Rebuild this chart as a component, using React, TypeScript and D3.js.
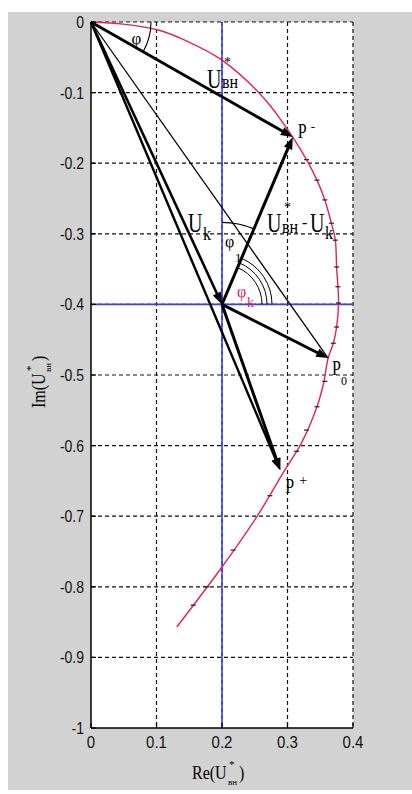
import React from 'react';
import * as d3 from 'd3';

// ---- data ----
const xTickValues = [0, 0.1, 0.2, 0.3, 0.4];
const xTickLabels = ['0', '0.1', '0.2', '0.3', '0.4'];
const yTickValues = [0, -0.1, -0.2, -0.3, -0.4, -0.5, -0.6, -0.7, -0.8, -0.9, -1];
const yTickLabels = ['0', '-0.1', '-0.2', '-0.3', '-0.4', '-0.5', '-0.6', '-0.7', '-0.8', '-0.9', '-1'];

// red locus curve (Re, Im)
const curveRe = [0, 0.049, 0.101, 0.144, 0.2, 0.266, 0.308, 0.329, 0.345, 0.357, 0.367, 0.373, 0.375, 0.377, 0.378, 0.375, 0.37, 0.362, 0.355, 0.345, 0.322, 0.293, 0.253, 0.2, 0.131];
const curveIm = [0, -0.003, -0.011, -0.026, -0.054, -0.11, -0.163, -0.195, -0.224, -0.252, -0.285, -0.309, -0.347, -0.375, -0.398, -0.432, -0.455, -0.476, -0.512, -0.545, -0.595, -0.639, -0.701, -0.772, -0.857];

// marker points along the locus (from P- downwards)
const markRe = [0.329, 0.345, 0.357, 0.367, 0.373, 0.375, 0.377, 0.378, 0.375, 0.37, 0.357, 0.345, 0.329, 0.314, 0.273, 0.217, 0.177, 0.156];
const markIm = [-0.195, -0.224, -0.252, -0.285, -0.309, -0.347, -0.375, -0.398, -0.432, -0.455, -0.509, -0.545, -0.578, -0.608, -0.671, -0.748, -0.8, -0.826];

// key points: O, Uk, P-, P0, P+
const pointRe = [0, 0.2, 0.308, 0.362, 0.289];
const pointIm = [0, -0.4, -0.163, -0.476, -0.635];

// vectors between key points
const vecFrom = [0, 1, 1, 1, 0, 0, 0];
const vecTo = [2, 2, 3, 4, 1, 4, 3];

// reference lines
const refRe = 0.2;
const refIm = -0.4;

// ---- styles (kept apart from data) ----
const vecWidth = [3, 3, 3, 3, 2.6, 2.4, 1.3];
const vecArrow = [true, true, true, true, true, true, false];
const SERIF = 'Liberation Serif, Times New Roman, serif';
const SANS = 'Liberation Sans, Arial, sans-serif';
const RED = '#e3225a';
const BLUE = '#3b3bff';

function T({ x, y, size, sy = 1, fill = '#000', anchor = 'start', family = SERIF, children }: any) {
  return (
    <text transform={`translate(${x},${y}) scale(1,${sy})`} fontSize={size} fill={fill}
      textAnchor={anchor} fontFamily={family}>{children}</text>
  );
}

export default function App() {
  const x = d3.scaleLinear().domain([0, 0.4]).range([91, 353]);
  const y = d3.scaleLinear().domain([0, -1]).range([22, 728]);
  const [x0, x1] = x.range();
  const [y0, y1] = y.range();

  const curvePath = d3.line<number>()
    .x((_, i) => x(curveRe[i]))
    .y((_, i) => y(curveIm[i]))
    .curve(d3.curveCatmullRom.alpha(0.5))(curveRe) as string;

  const P = pointRe.map((r, i) => [x(r), y(pointIm[i])]);

  const ang = (a: number[], b: number[]) => Math.atan2(b[1] - a[1], b[0] - a[0]);
  const arc = (c: number[], r: number, a0: number, a1: number) => {
    const p = d3.path();
    p.arc(c[0], c[1], r, a0, a1, false);
    return p.toString();
  };

  const aPhi = ang(P[0], P[2]);
  const aK = ang(P[1], P[2]);

  return (
    <svg width={412} height={794} style={{ position: 'absolute', left: 0, top: 0 }}>
      <rect x={8} y={12} width={404} height={778} fill="#d2d2d2" />
      <rect x={x0} y={y0} width={x1 - x0} height={y1 - y0} fill="#fff" />

      {/* grid */}
      {xTickValues.slice(1).map((v) => (
        <line key={'gx' + v} x1={x(v)} x2={x(v)} y1={y0} y2={y1} stroke="#111" strokeWidth={1.2} strokeDasharray="4,3" />
      ))}
      {yTickValues.slice(0, -1).map((v) => (
        <line key={'gy' + v} x1={x0} x2={x1} y1={y(v)} y2={y(v)} stroke="#111" strokeWidth={1.2} strokeDasharray="4,3" />
      ))}

      {/* blue reference lines */}
      <line x1={x(refRe)} x2={x(refRe)} y1={y0} y2={y1} stroke={BLUE} strokeWidth={1.6} />
      <line x1={x0} x2={x1} y1={y(refIm)} y2={y(refIm)} stroke={BLUE} strokeWidth={1.6} />

      {/* red curve */}
      <path d={curvePath} fill="none" stroke={RED} strokeWidth={1.4} />
      {markRe.map((r, i) => (
        <line key={'m' + i} x1={x(r) - 2.5} x2={x(r) + 2.5} y1={y(markIm[i])} y2={y(markIm[i])} stroke="#222" strokeWidth={1.2} />
      ))}

      {/* vectors */}
      {vecFrom.map((f, i) => {
        const a = P[f], b = P[vecTo[i]];
        const t = ang(a, b);
        const L = 12, hw = 4.5;
        const ux = Math.cos(t), uy = Math.sin(t);
        const bx = b[0] - L * ux * 0.8, by = b[1] - L * uy * 0.8;
        const baseX = b[0] - L * ux, baseY = b[1] - L * uy;
        return (
          <g key={'v' + i}>
            <line x1={a[0]} y1={a[1]} x2={vecArrow[i] ? bx : b[0]} y2={vecArrow[i] ? by : b[1]} stroke="#000" strokeWidth={vecWidth[i]} />
            {vecArrow[i] && (
              <polygon points={`${b[0]},${b[1]} ${baseX - hw * uy},${baseY + hw * ux} ${baseX + hw * uy},${baseY - hw * ux}`} fill="#000" />
            )}
          </g>
        );
      })}

      {/* angle arcs */}
      <path d={arc(P[0], 60, 0, aPhi)} fill="none" stroke="#000" strokeWidth={1.1} />
      <path d={arc(P[1], 82, -Math.PI / 2, aK)} fill="none" stroke="#000" strokeWidth={1.1} />
      {[40, 45, 50].map((r) => (
        <path key={'ak' + r} d={arc(P[1], r, aK, 0)} fill="none" stroke="#000" strokeWidth={1} />
      ))}

      {/* axes */}
      <line x1={x0} x2={x0} y1={y0} y2={y1} stroke="#000" strokeWidth={1.5} />
      <line x1={x0} x2={x1} y1={y1} y2={y1} stroke="#000" strokeWidth={1.5} />
      {yTickValues.map((v) => (
        <line key={'ty' + v} x1={x0} x2={x0 + 5} y1={y(v)} y2={y(v)} stroke="#000" strokeWidth={1.2} />
      ))}
      {xTickValues.map((v) => (
        <line key={'tx' + v} x1={x(v)} x2={x(v)} y1={y1} y2={y1 - 5} stroke="#000" strokeWidth={1.2} />
      ))}

      {/* tick labels */}
      {yTickValues.map((v, i) => (
        <T key={'ly' + v} x={x0 - 7} y={y(v) + 6} size={14} sy={1.15} anchor="end" family={SANS} fill="#111">{yTickLabels[i]}</T>
      ))}
      {xTickValues.map((v, i) => (
        <T key={'lx' + v} x={x(v)} y={y1 + 20} size={15} sy={1.15} anchor="middle" family={SANS} fill="#111">{xTickLabels[i]}</T>
      ))}

      {/* axis titles */}
      <T x={192} y={779} size={16} sy={1.15}>Re(U</T>
      <T x={228} y={785} size={9}>вн</T>
      <T x={229} y={768} size={11}>*</T>
      <T x={239} y={779} size={16} sy={1.15}>)</T>
      <g transform="translate(45,408) rotate(-90)">
        <T x={0} y={0} size={16} sy={1.15}>Im(U</T>
        <T x={36} y={6} size={9}>вн</T>
        <T x={37} y={-11} size={11}>*</T>
        <T x={47} y={0} size={16} sy={1.15}>)</T>
      </g>

      {/* annotations */}
      <T x={x(0.062)} y={y(-0.031)} size={17}>φ</T>

      <T x={x(0.177)} y={y(-0.094)} size={20} sy={1.4}>U</T>
      <T x={x(0.177) + 15} y={y(-0.094)} size={16} sy={1.2}>вн</T>
      <T x={x(0.177) + 17} y={y(-0.094) - 21} size={14}>*</T>

      <T x={P[2][0] + 5} y={P[2][1] + 1} size={16} sy={1.3}>P</T>
      <T x={P[2][0] + 18} y={P[2][1] - 6} size={13}>-</T>

      <T x={x(0.148)} y={y(-0.2975)} size={20} sy={1.4}>U</T>
      <T x={x(0.148) + 15} y={y(-0.2975) + 8} size={16} sy={1.2}>k</T>

      <T x={x(0.2046)} y={y(-0.318)} size={16}>φ</T>
      <T x={x(0.2046) + 10} y={y(-0.318) + 15} size={13}>1</T>

      <T x={x(0.2687)} y={y(-0.2975)} size={20} sy={1.4}>U</T>
      <T x={x(0.2687) + 15} y={y(-0.2975) + 1} size={16} sy={1.2}>вн</T>
      <T x={x(0.2687) + 17} y={y(-0.2975) - 20} size={14}>*</T>
      <T x={x(0.2687) + 35} y={y(-0.2975) - 4} size={16}>-</T>
      <T x={x(0.2687) + 43} y={y(-0.2975)} size={20} sy={1.4}>U</T>
      <T x={x(0.2687) + 58} y={y(-0.2975) + 7} size={16} sy={1.2}>k</T>

      <T x={x(0.223)} y={y(-0.389)} size={16} fill={RED}>φ</T>
      <T x={x(0.223) + 10} y={y(-0.389) + 10} size={14} fill={RED}>k</T>

      <T x={P[3][0] + 4} y={P[3][1] + 17} size={16} sy={1.3}>P</T>
      <T x={P[3][0] + 13} y={P[3][1] + 27} size={12}>0</T>

      <T x={P[4][0] + 5} y={P[4][1] + 23} size={16} sy={1.3}>P</T>
      <T x={P[4][0] + 19} y={P[4][1] + 15} size={14}>+</T>
    </svg>
  );
}
